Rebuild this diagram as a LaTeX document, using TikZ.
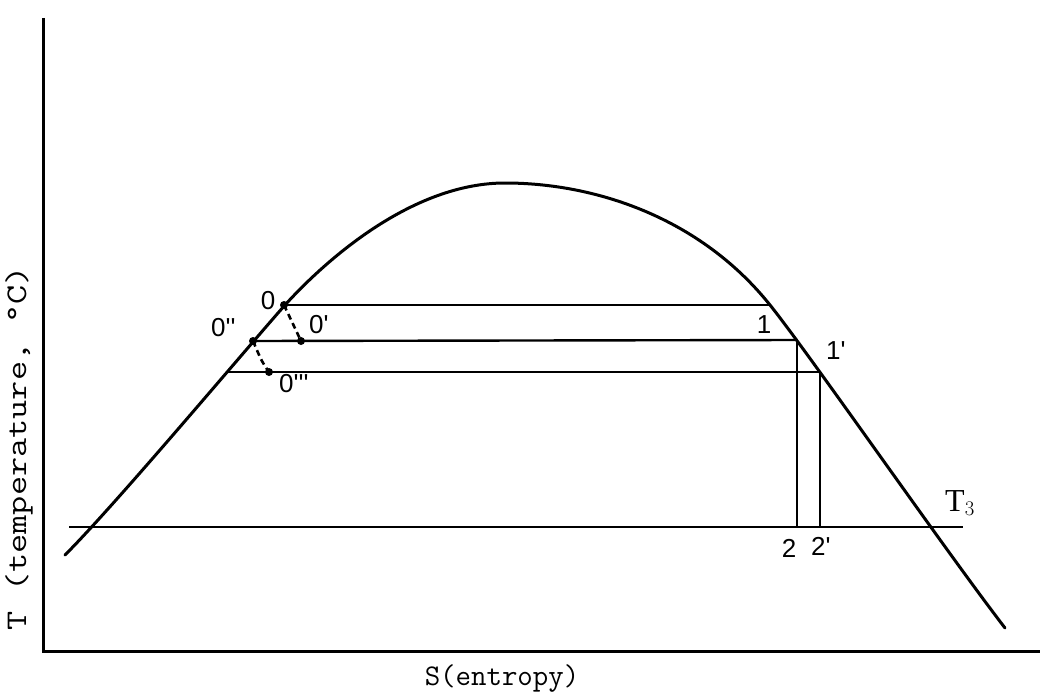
\documentclass[tikz,border=0pt]{standalone}
\usepackage{fontspec}
\newfontfamily\lblfont{Liberation Sans}
\newfontfamily\tfont{Liberation Serif}
\begin{document}
\begin{tikzpicture}[x=1pt,y=-1pt,
  thick line/.style={line width=3pt},
  thin line/.style={line width=2.4pt},
  dotpt/.style={circle,fill=black,inner sep=0pt,minimum size=8pt},
  ptlabel/.style={font=\lblfont\fontsize{26}{26}\selectfont,inner sep=0pt},
  axlabel/.style={font=\ttfamily\fontsize{30}{30}\selectfont,inner sep=0pt},
  dashline/.style={line width=2.6pt,dash pattern=on 6pt off 4pt}]
\useasboundingbox (0,0) rectangle (1040,695);
% axes
\coordinate (top) at (43,18);
\coordinate (origin) at (43,651);
\coordinate (xend) at (1040,651);
\draw[thick line] (top) -- (origin) -- (xend);
% saturation dome
\coordinate (d0) at (65,555);
\coordinate (d1) at (285,305);
\coordinate (dtop) at (505,183);
\coordinate (d2) at (770,305);
\coordinate (d3) at (1005,628);
\draw[thick line,line cap=round] (d0)
  .. controls (115,505) and (235,362) .. (d1)
  .. controls (330,255.5) and (415,183) .. (dtop)
  .. controls (595,183) and (700,217.5) .. (d2)
  .. controls (810,355) and (945,550) .. (d3);
% state points
\node[dotpt] (p0) at (284,305) {};
\node[dotpt] (p0a) at (301,341) {};
\node[dotpt] (p0b) at (253,341) {};
\node[dotpt] (p0c) at (269,372) {};
\coordinate (p1) at (771,305);
\coordinate (p1a) at (797,340);
\coordinate (p1b) at (820,372);
\coordinate (l3) at (227,372);
\coordinate (p2) at (797,527);
\coordinate (p2a) at (820,527);
\coordinate (t3a) at (69,527);
\coordinate (t3b) at (963,527);
% horizontal lines
\draw[thin line] (p0.center) -- (p1);
\draw[thin line] (p0b.center) -- (p1a);
\draw[thin line] (l3) -- (p1b);
\draw[thin line] (t3a) -- (t3b);
% vertical lines
\draw[thin line] (p1a) -- (p2);
\draw[thin line] (p1b) -- (p2a);
% dashed
\draw[dashline] (p0.center) -- (p0a.center);
\draw[dashline] (p0b.center) .. controls (262,362) .. (p0c.center);
% labels
\node[ptlabel] (L0) at (268,301) {0};
\node[ptlabel,anchor=west] (L0a) at (309,325) {0'};
\node[ptlabel,anchor=west] (L0b) at (211,328) {0''};
\node[ptlabel,anchor=west] (L0c) at (279,384) {0'''};
\node[ptlabel] (L1) at (764,325) {1};
\node[ptlabel,anchor=west] (L1a) at (826,351) {1'};
\node[ptlabel] (L2) at (789,548) {2};
\node[ptlabel,anchor=west] (L2a) at (811,546) {2'};
\node[font=\tfont\fontsize{32}{32}\selectfont,inner sep=0pt] (T3) at (960,503) {T$_3$};
\node[axlabel] (xl) at (502,679) {S(entropy)};
\node[axlabel,rotate=90] (yl) at (19,448) {\scalebox{1.24}[1]{T (temperature, °C)}};
\end{tikzpicture}
\end{document}
